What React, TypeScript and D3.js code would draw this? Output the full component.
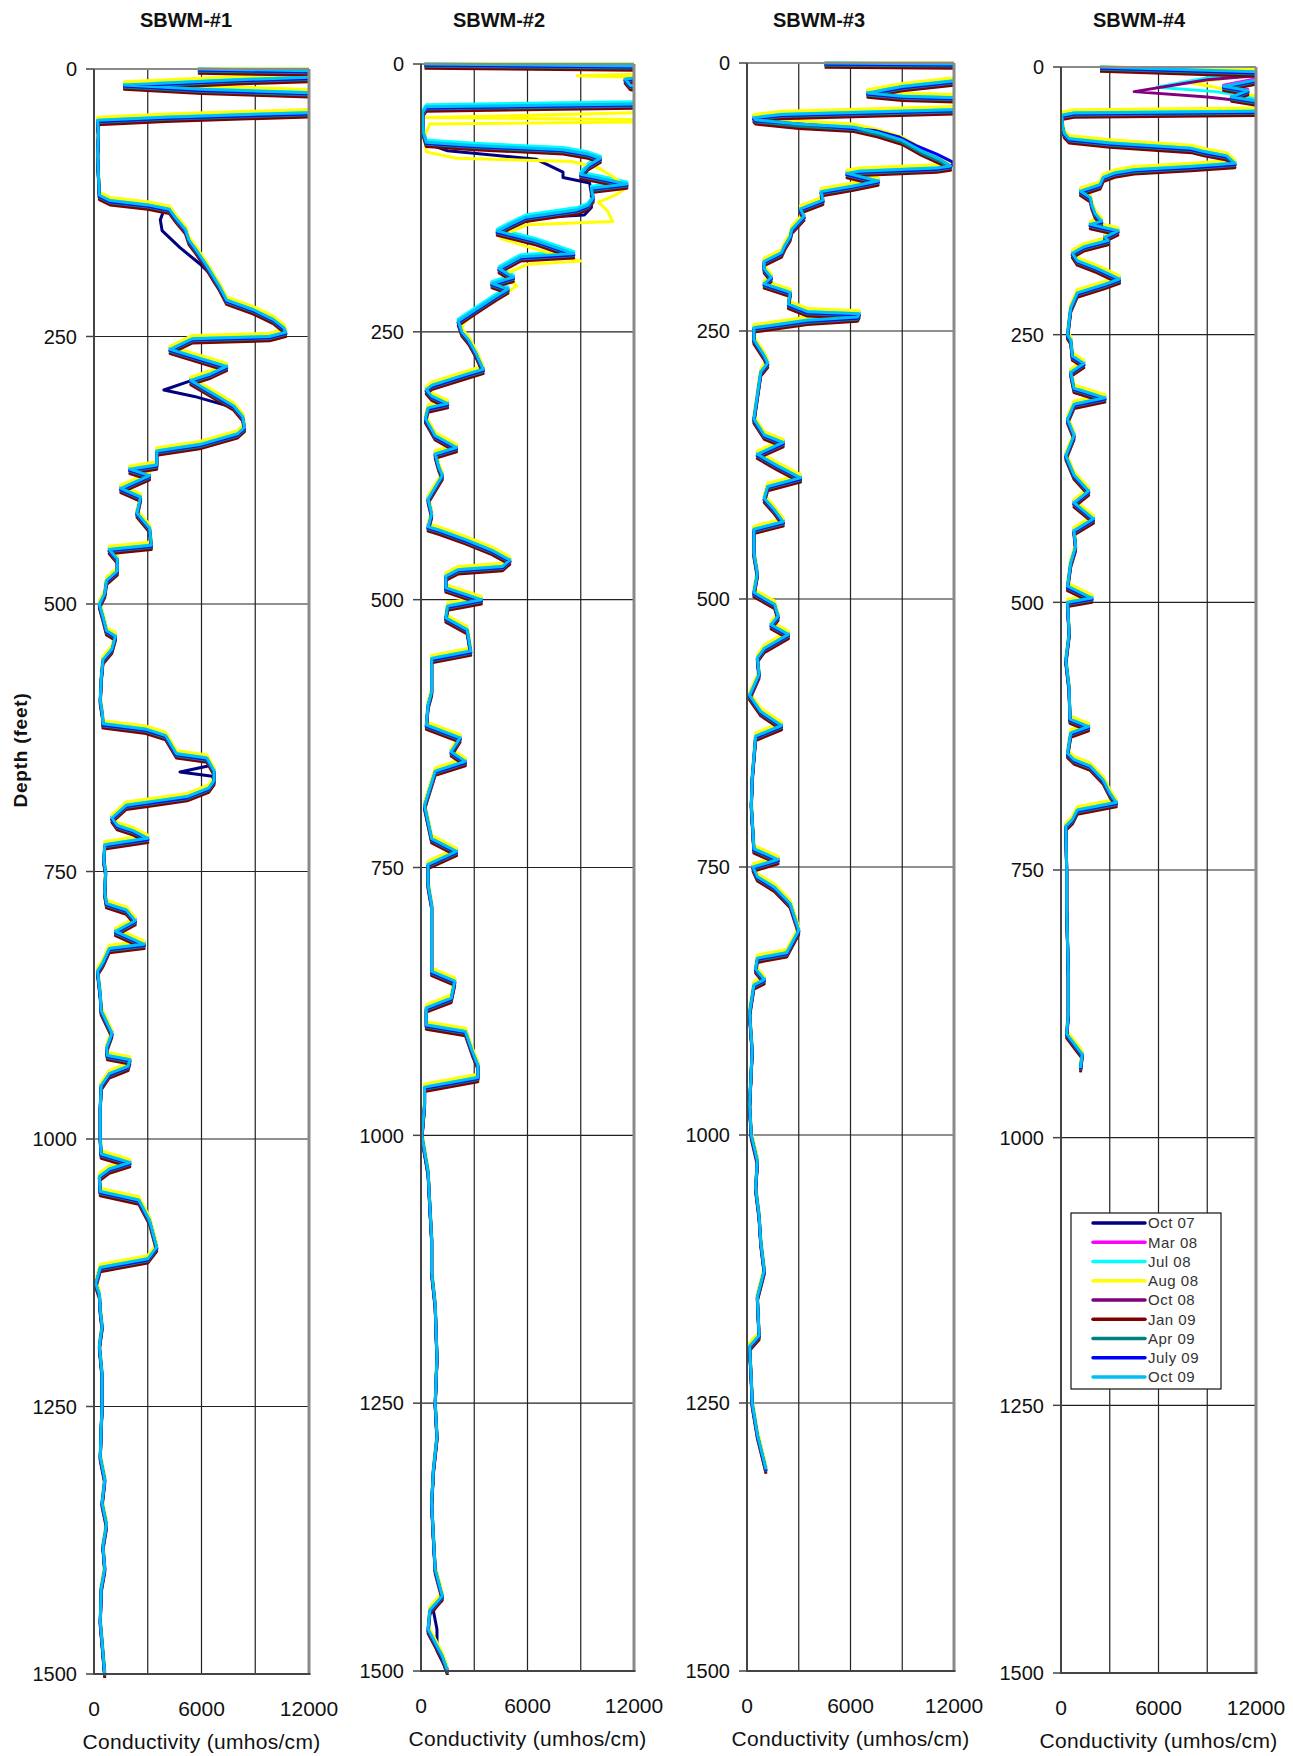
import { useRef, useEffect } from 'react';
import * as d3 from 'd3';

type Pt = [number, number]; // [depth ft, conductivity umhos/cm]

const SERIES = ['Oct 07', 'Mar 08', 'Jul 08', 'Aug 08', 'Oct 08', 'Jan 09', 'Apr 09', 'July 09', 'Oct 09'];
const SERIES_COLORS = ['#000080', '#ff00ff', '#00ffff', '#ffff00', '#800080', '#800000', '#008080', '#0000ff', '#00bff5'];
// how far each survey sits above (-) or below (+) the last one, in feet
const SERIES_DEPTH_SHIFT = [1, -1, -2, -3, 2, 4, 2, 1, 0];

const DEPTH_TICKS = [0, 250, 500, 750, 1000, 1250, 1500];
const COND_TICKS = [0, 6000, 12000];
const COND_GRID = [3000, 6000, 9000];

// SBWM-#1
const P1_BASE: Pt[] = [
  [0, 5800], [2, 13500], [7, 13500], [10, 8000], [15, 1700], [19, 6000], [23, 13500], [40, 13500], [45, 4000], [48, 200],
  [60, 250], [80, 200], [100, 250], [118, 300], [123, 900], [127, 3000], [131, 4200], [140, 4600], [150, 5100], [160, 5300],
  [169, 5700], [184, 6300], [195, 6700], [203, 7000], [216, 7400], [225, 8900], [234, 10000], [242, 10600], [246, 10700], [250, 9800],
  [252, 5500], [262, 4250], [270, 5800], [278, 7400], [285, 6500], [291, 5400], [300, 6300], [315, 7800], [325, 8300], [335, 8400],
  [341, 8000], [351, 5900], [357, 3500], [370, 3500], [374, 2000], [380, 3100], [392, 1500], [400, 2600], [415, 2400], [429, 3100],
  [445, 3200], [449, 850], [458, 1300], [469, 1300], [478, 700], [490, 600], [500, 300], [512, 500], [525, 700], [530, 1200],
  [542, 1000], [552, 500], [570, 400], [590, 350], [603, 470], [612, 500], [617, 2900], [623, 4000], [640, 4600], [644, 6300],
  [656, 6700], [665, 6700], [672, 6400], [680, 5200], [684, 3500], [688, 1800], [700, 1000], [707, 1300], [712, 2200], [719, 3000],
  [725, 600], [740, 550], [750, 650], [770, 600], [780, 700], [786, 1800], [796, 2300], [806, 1200], [818, 2800], [822, 850],
  [835, 500], [843, 200], [865, 350], [880, 400], [901, 1000], [915, 700], [922, 750], [926, 2000], [932, 1900], [939, 850],
  [950, 400], [970, 350], [1000, 350], [1014, 400], [1022, 2000], [1028, 850], [1035, 300], [1049, 350], [1057, 2500], [1076, 3100],
  [1101, 3500], [1112, 3000], [1120, 350], [1135, 100], [1145, 300], [1160, 350], [1175, 450], [1193, 300], [1220, 450], [1250, 450],
  [1270, 400], [1297, 350], [1318, 600], [1340, 450], [1360, 700], [1380, 500], [1401, 600], [1420, 400], [1451, 350], [1470, 450],
  [1500, 600],
];
const P1_OCT07_A: Pt[] = [[131, 3900], [140, 3700], [150, 3800], [166, 4800], [181, 5900], [194, 6700]];
const P1_OCT07_B: Pt[] = [[291, 5300], [299, 3900], [305, 5600], [315, 7700]];
const P1_OCT07_C: Pt[] = [[650, 6500], [656, 4800], [660, 6600], [665, 6700]];

// SBWM-#2
const P2_BASE: Pt[] = [
  [0, 200], [2, 13500], [10, 13500], [14, 11500], [20, 11800], [25, 13500], [37, 13500], [40, 300], [45, 100], [55, 100],
  [65, 150], [73, 300], [76, 3000], [80, 8000], [84, 9400], [88, 10100], [95, 9400], [103, 9000], [108, 10500], [112, 11600],
  [116, 9600], [125, 9700], [132, 9400], [136, 8800], [143, 5900], [150, 5000], [156, 4300], [165, 6500], [177, 8600], [180, 5600],
  [191, 4400], [199, 5200], [205, 4000], [210, 4900], [217, 4200], [229, 3100], [240, 2100], [250, 2300], [258, 2700], [270, 3100],
  [285, 3500], [290, 2500], [300, 600], [304, 300], [310, 600], [317, 1500], [321, 400], [331, 250], [347, 800], [358, 2000],
  [364, 800], [376, 1000], [384, 1200], [395, 800], [406, 400], [420, 600], [432, 400], [435, 1000], [444, 2500], [454, 4000],
  [463, 5000], [469, 4600], [472, 2100], [478, 1400], [489, 1400], [500, 3400], [506, 1500], [517, 1400], [528, 2600], [548, 2800],
  [555, 600], [586, 600], [598, 400], [617, 300], [629, 2200], [642, 1700], [651, 2500], [660, 800], [692, 200], [723, 600],
  [735, 2000], [747, 400], [766, 400], [785, 600], [816, 600], [847, 600], [856, 1900], [872, 1700], [881, 300], [897, 300],
  [903, 2500], [922, 2900], [934, 3200], [946, 3200], [955, 200], [971, 200], [1000, 50], [1034, 400], [1066, 500], [1096, 600],
  [1127, 600], [1158, 800], [1207, 900], [1250, 800], [1281, 900], [1312, 700], [1343, 600], [1375, 700], [1405, 800], [1430, 1200],
  [1443, 500], [1461, 400], [1486, 1200], [1500, 1500],
];
const P2_OCT07_A: Pt[] = [[73, 300], [80, 1500], [88, 6500], [100, 8000], [105, 8000], [110, 9500], [120, 9600], [133, 9600], [140, 9200]];
const P2_OCT07_B: Pt[] = [[1443, 700], [1460, 900], [1480, 900], [1490, 1200]];
const P2_AUG08: Pt[] = [
  [0, 200], [2, 13500], [12, 13500], [14, 8800], [16, 13500], [48, 13500], [53, 300], [55, 13500], [57, 13500], [59, 500],
  [70, 200], [85, 300], [91, 2000], [94, 8500], [100, 10000], [108, 10800], [118, 11600], [125, 11000], [132, 10000], [140, 10500],
  [150, 10800], [153, 6000], [160, 5000], [166, 4500], [176, 6500], [187, 9000], [190, 6000], [200, 4600], [210, 5400], [220, 4500],
  [232, 3300], [245, 2400],
];

// SBWM-#3
const P3_BASE: Pt[] = [
  [0, 4500], [1, 13500], [14, 13500], [22, 9000], [28, 7000], [31, 9000], [33, 13500], [43, 13500], [48, 2000], [51, 400],
  [53, 500], [57, 3000], [60, 6200], [65, 7600], [72, 9000], [82, 10100], [90, 11200], [96, 11800], [98, 11000], [101, 6500],
  [103, 5800], [110, 7600], [115, 6100], [120, 4300], [128, 4400], [136, 3100], [143, 3300], [155, 2600], [162, 2500], [170, 2200],
  [177, 2000], [185, 1000], [192, 1000], [200, 1400], [206, 1000], [214, 2500], [225, 2400], [232, 3500], [234, 6500], [237, 6400],
  [240, 3500], [247, 400], [258, 400], [273, 1000], [280, 1200], [288, 800], [310, 600], [332, 400], [347, 1000], [354, 2100],
  [365, 600], [376, 1800], [387, 3100], [395, 1200], [406, 1000], [417, 1600], [428, 2100], [435, 400], [457, 400], [476, 600],
  [494, 400], [505, 1600], [516, 1800], [524, 1400], [533, 2400], [546, 1000], [555, 600], [570, 700], [590, 150], [605, 800],
  [618, 2000], [628, 500], [667, 300], [692, 250], [733, 400], [743, 1800], [750, 350], [759, 600], [769, 1600], [784, 2500],
  [809, 3000], [830, 2300], [835, 600], [845, 500], [855, 1000], [860, 400], [886, 150], [921, 300], [972, 150], [1000, 250],
  [1024, 600], [1049, 500], [1075, 700], [1100, 800], [1126, 1000], [1151, 600], [1187, 700], [1197, 150], [1228, 250], [1250, 300],
  [1279, 600], [1305, 1000], [1312, 1100],
];
const P3_JUL09: Pt[] = [[57, 4000], [62, 7400], [68, 8800], [76, 9800], [84, 11000], [92, 12000], [96, 11800]];

// SBWM-#4
const P4_BASE: Pt[] = [
  [0, 2400], [5, 13000], [12, 12000], [18, 10000], [22, 11500], [28, 10500], [33, 12500], [38, 13500], [41, 13500], [43, 800],
  [45, 50], [55, 100], [62, 200], [67, 500], [71, 3000], [76, 8000], [79, 8800], [83, 10200], [90, 10700], [93, 8000],
  [96, 4500], [99, 3300], [103, 2600], [110, 2400], [116, 1200], [122, 1800], [129, 1900], [137, 2100], [144, 2500], [147, 1800],
  [153, 3500], [159, 2700], [162, 2900], [168, 1400], [174, 700], [181, 1000], [188, 2200], [198, 3600], [203, 2700], [211, 1000],
  [225, 600], [250, 400], [255, 600], [270, 700], [277, 1400], [285, 600], [300, 800], [309, 2700], [315, 800], [329, 400],
  [344, 800], [363, 300], [381, 800], [396, 1700], [407, 800], [422, 2000], [433, 800], [448, 900], [463, 600], [485, 400],
  [496, 1900], [500, 400], [529, 500], [554, 300], [580, 500], [609, 550], [616, 1700], [622, 600], [641, 400], [647, 800],
  [653, 1800], [666, 2600], [678, 3000], [687, 3400], [694, 1000], [703, 700], [709, 300], [750, 350], [784, 350], [847, 450],
  [884, 450], [903, 350], [916, 1000], [922, 1300], [935, 1200],
];
const P4_JUL08: Pt[] = [[0, 2400], [5, 13000], [12, 9000], [21, 5900], [25, 9500], [32, 12500], [38, 13500]];
const P4_AUG08: Pt[] = [[0, 2400], [5, 13000], [14, 10000], [18, 8000], [22, 9500], [30, 12000], [38, 13500]];
const P4_OCT08: Pt[] = [[0, 2400], [5, 13000], [10, 9000], [21, 4500], [26, 9000], [32, 12500], [38, 13500]];

const PANELS = [
  { title: 'SBWM-#1', base: P1_BASE, overrides: [{ series: 0, points: P1_OCT07_A }, { series: 0, points: P1_OCT07_B }, { series: 0, points: P1_OCT07_C }] },
  { title: 'SBWM-#2', base: P2_BASE, overrides: [{ series: 0, points: P2_OCT07_A }, { series: 0, points: P2_OCT07_B }, { series: 3, points: P2_AUG08 }] },
  { title: 'SBWM-#3', base: P3_BASE, overrides: [{ series: 7, points: P3_JUL09 }] },
  { title: 'SBWM-#4', base: P4_BASE, overrides: [{ series: 2, points: P4_JUL08 }, { series: 3, points: P4_AUG08 }, { series: 4, points: P4_OCT08 }] },
];

const WIDTH = 1293;
const HEIGHT = 1756;
const BOXES = [
  { left: 94, right: 309, top: 69, bottom: 1674, titleX: 186 },
  { left: 421, right: 634, top: 64, bottom: 1671, titleX: 499 },
  { left: 747, right: 954, top: 63, bottom: 1671, titleX: 819 },
  { left: 1061, right: 1256, top: 67, bottom: 1673, titleX: 1139 },
];
const LEGEND = { x: 1071, y: 1213, w: 150, h: 176 };
const FONT = "'Liberation Sans', Arial, sans-serif";

function seriesPoints(base: Pt[], overrides: { series: number; points: Pt[] }[], si: number): Pt[] {
  let pts = base.slice();
  overrides.filter((o) => o.series === si).forEach((o) => {
    const d0 = o.points[0][0];
    const d1 = o.points[o.points.length - 1][0];
    pts = pts.filter((p) => p[0] < d0 || p[0] > d1).concat(o.points);
  });
  pts.sort((a, b) => a[0] - b[0]);
  const shift = SERIES_DEPTH_SHIFT[si];
  return pts.map(([d, c]) => [Math.max(0, d + shift), c] as Pt);
}

export default function App() {
  const svgRef = useRef<SVGSVGElement>(null);

  useEffect(() => {
    if (!svgRef.current) return;
    const svg = d3.select(svgRef.current);
    svg.selectAll('*').remove();

    PANELS.forEach((panel, pi) => {
      const b = BOXES[pi];
      const x = d3.scaleLinear().domain([0, 12000]).range([b.left, b.right]);
      const y = d3.scaleLinear().domain([0, 1500]).range([b.top, b.bottom]);
      const g = svg.append('g');

      const clipId = `clip-${pi}`;
      svg.append('clipPath').attr('id', clipId)
        .append('rect')
        .attr('x', b.left - 4).attr('y', b.top - 4)
        .attr('width', b.right - b.left + 4).attr('height', b.bottom - b.top + 8);

      // grid
      g.selectAll('.vgrid').data(COND_GRID).join('line')
        .attr('x1', (d) => x(d)).attr('x2', (d) => x(d))
        .attr('y1', b.top).attr('y2', b.bottom)
        .attr('stroke', '#222').attr('stroke-width', 1.2);
      g.selectAll('.hgrid').data(DEPTH_TICKS.slice(1, -1)).join('line')
        .attr('x1', b.left).attr('x2', b.right)
        .attr('y1', (d) => y(d)).attr('y2', (d) => y(d))
        .attr('stroke', '#222').attr('stroke-width', 1.2);

      // series, Oct 09 drawn last
      const line = d3.line<Pt>().x((d) => x(d[1])).y((d) => y(d[0]));
      const lines = g.append('g').attr('clip-path', `url(#${clipId})`);
      SERIES.forEach((_, si) => {
        lines.append('path')
          .datum(seriesPoints(panel.base, panel.overrides, si))
          .attr('fill', 'none')
          .attr('stroke', SERIES_COLORS[si])
          .attr('stroke-width', 3)
          .attr('stroke-linejoin', 'round')
          .attr('d', line);
      });

      // plot frame
      g.append('line').attr('x1', b.left).attr('x2', b.right).attr('y1', b.top).attr('y2', b.top)
        .attr('stroke', '#8a8a8a').attr('stroke-width', 2);
      g.append('line').attr('x1', b.right).attr('x2', b.right).attr('y1', b.top).attr('y2', b.bottom)
        .attr('stroke', '#8a8a8a').attr('stroke-width', 3);
      g.append('line').attr('x1', b.left).attr('x2', b.right + 1.5).attr('y1', b.bottom).attr('y2', b.bottom)
        .attr('stroke', '#444').attr('stroke-width', 2);
      g.append('line').attr('x1', b.left).attr('x2', b.left).attr('y1', b.top).attr('y2', b.bottom + 1)
        .attr('stroke', '#444').attr('stroke-width', 2);

      // depth axis
      g.selectAll('.ytick').data(DEPTH_TICKS).join('line')
        .attr('x1', b.left - 8).attr('x2', b.left)
        .attr('y1', (d) => y(d)).attr('y2', (d) => y(d))
        .attr('stroke', '#444').attr('stroke-width', 1.5);
      g.selectAll('.ylab').data(DEPTH_TICKS).join('text')
        .attr('x', b.left - 17).attr('y', (d) => y(d)).attr('dy', '0.36em')
        .attr('text-anchor', 'end').attr('font-family', FONT).attr('font-size', 20).attr('fill', '#111')
        .text((d) => String(d));

      // conductivity axis
      g.selectAll('.xlab').data(COND_TICKS).join('text')
        .attr('x', (d) => x(d)).attr('y', b.bottom + 42)
        .attr('text-anchor', 'middle').attr('font-family', FONT).attr('font-size', 21).attr('fill', '#111')
        .text((d) => String(d));
      g.append('text')
        .attr('x', (b.left + b.right) / 2).attr('y', b.bottom + 75)
        .attr('text-anchor', 'middle').attr('font-family', FONT).attr('font-size', 21)
        .attr('letter-spacing', 0.3).attr('fill', '#111')
        .text('Conductivity (umhos/cm)');

      // title
      g.append('text')
        .attr('x', b.titleX).attr('y', 27)
        .attr('text-anchor', 'middle').attr('font-family', FONT).attr('font-size', 20)
        .attr('font-weight', 'bold').attr('fill', '#111')
        .text(panel.title);
    });

    // y axis label
    svg.append('text')
      .attr('transform', 'translate(27,750) rotate(-90)')
      .attr('text-anchor', 'middle').attr('font-family', FONT).attr('font-size', 19)
      .attr('font-weight', 'bold').attr('letter-spacing', 0.8).attr('fill', '#111')
      .text('Depth (feet)');

    // legend
    const lg = svg.append('g');
    lg.append('rect')
      .attr('x', LEGEND.x).attr('y', LEGEND.y).attr('width', LEGEND.w).attr('height', LEGEND.h)
      .attr('fill', '#fff').attr('stroke', '#111').attr('stroke-width', 1.2);
    const rowY = d3.scalePoint<string>().domain(SERIES).range([LEGEND.y + 10, LEGEND.y + LEGEND.h - 12]);
    SERIES.forEach((name, si) => {
      const yy = rowY(name) ?? 0;
      lg.append('line')
        .attr('x1', LEGEND.x + 22).attr('x2', LEGEND.x + 74).attr('y1', yy).attr('y2', yy)
        .attr('stroke', SERIES_COLORS[si]).attr('stroke-width', 3.5).attr('stroke-linecap', 'round');
      lg.append('text')
        .attr('x', LEGEND.x + 77).attr('y', yy).attr('dy', '0.36em')
        .attr('font-family', FONT).attr('font-size', 15).attr('letter-spacing', 0.5).attr('fill', '#333')
        .text(name);
    });
  }, []);

  return (
    <svg
      ref={svgRef}
      width={WIDTH}
      height={HEIGHT}
      viewBox={`0 0 ${WIDTH} ${HEIGHT}`}
      style={{ position: 'absolute', left: 0, top: 0, background: '#fff' }}
    />
  );
}
